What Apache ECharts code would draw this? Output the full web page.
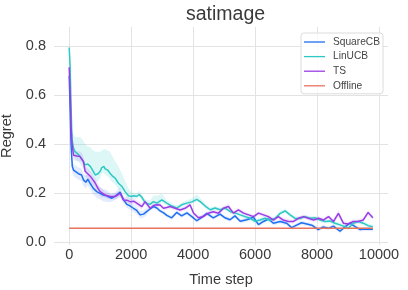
<!DOCTYPE html>
<html><head><meta charset="utf-8">
<script src="https://cdn.jsdelivr.net/npm/echarts@6/dist/echarts.min.js"></script>
<style>html,body{margin:0;padding:0;background:#fff}#c{width:408px;height:290px}</style>
</head><body><div id="c"></div>
<script>
// ---- data ----
const seriesNames = ['SquareCB', 'LinUCB', 'TS', 'Offline'];
const xTickValues = [0, 2000, 4000, 6000, 8000, 10000];
const yTickValues = [0.0, 0.2, 0.4, 0.6, 0.8];

const sqT = [0,30,60,100,140,200,300,400,460,540,600,680,780,890,1000,1100,1200,1375,1500,1645,1750,1860,1950,2075,2180,2290,2400,2500,2600,2720,2830,2935,3050,3150,3310,3470,3630,3800,3960,4120,4280,4440,4650,4870,5030,5190,5350,5520,5730,5950,6110,6270,6430,6590,6810,7020,7180,7340,7500,7670,7830,8040,8200,8370,8530,8740,8900,9060,9230,9390,9550,9800];
const sqV = [0.68,0.55,0.40,0.31,0.295,0.29,0.28,0.275,0.255,0.245,0.258,0.24,0.22,0.207,0.20,0.193,0.19,0.18,0.19,0.205,0.175,0.155,0.15,0.139,0.13,0.112,0.115,0.125,0.135,0.146,0.14,0.128,0.12,0.11,0.10,0.122,0.108,0.12,0.105,0.088,0.102,0.118,0.10,0.115,0.10,0.092,0.108,0.086,0.092,0.102,0.072,0.085,0.095,0.078,0.085,0.078,0.06,0.07,0.08,0.075,0.07,0.052,0.063,0.057,0.066,0.045,0.063,0.078,0.064,0.052,0.054,0.053];
const sqBand = [0.005,0.02,0.02,0.025,0.025,0.025,0.025,0.025,0.025,0.025,
  0.025,0.025,0.025,0.025,0.025,0.025,0.025,0.015,0.015,0.02,
  0.015,0.015,0.015,0.015,0.015,0.015,0.015,0.015,0.008,0.008,
  0.008,0.008,0.008,0.008,0.008,0.008,0.008,0.008,0.008,0.008,
  0.008,0.008,0.008,0.008,0.008,0.008,0.008,0.008,0.008,0.008,
  0.008,0.008,0.008,0.008,0.008,0.008,0.008,0.008,0.008,0.008,
  0.008,0.008,0.008,0.008,0.008,0.008,0.008,0.008,0.008,0.008,
  0.008,0.008];

const linT = [0,30,60,90,140,190,280,355,430,516,600,680,731,840,930,1000,1054,1120,1160,1240,1320,1400,1484,1590,1700,1806,1914,2000,2075,2180,2260,2340,2450,2610,2720,2830,2990,3150,3310,3470,3630,3800,3960,4120,4230,4390,4550,4710,4870,5030,5190,5350,5520,5680,5840,6000,6160,6320,6480,6650,6810,6970,7130,7290,7450,7610,7770,7940,8100,8260,8420,8580,8740,8900,9010,9170,9330,9490,9650,9800];
const linV = [0.795,0.72,0.56,0.42,0.385,0.37,0.36,0.35,0.335,0.316,0.32,0.31,0.30,0.275,0.28,0.29,0.305,0.31,0.30,0.295,0.282,0.27,0.262,0.241,0.228,0.207,0.19,0.187,0.19,0.188,0.195,0.185,0.162,0.155,0.166,0.16,0.173,0.16,0.148,0.14,0.153,0.16,0.165,0.175,0.166,0.148,0.133,0.14,0.133,0.14,0.126,0.12,0.112,0.105,0.098,0.086,0.091,0.098,0.09,0.098,0.118,0.128,0.112,0.098,0.097,0.105,0.098,0.1,0.091,0.085,0.087,0.078,0.071,0.064,0.057,0.078,0.085,0.078,0.068,0.064];
const linUp = [0.005,0.02,0.03,0.03,0.055,0.06,0.07,0.08,0.085,0.084,
  0.07,0.08,0.08,0.095,0.09,0.08,0.07,0.07,0.08,0.08,
  0.088,0.08,0.068,0.069,0.052,0.043,0.03,0.018,0.012,0.012,
  0.015,0.012,0.012,0.015,0.025,0.03,0.025,0.012,0.01,0.01,
  0.01,0.012,0.015,0.02,0.015,0.01,0.008,0.008,0.008,0.008,
  0.008,0.008,0.008,0.008,0.008,0.008,0.008,0.008,0.008,0.008,
  0.01,0.01,0.008,0.008,0.008,0.008,0.008,0.008,0.008,0.008,
  0.008,0.008,0.008,0.008,0.008,0.008,0.008,0.008,0.008,0.008];
const linDown = [0.005,0.02,0.03,0.03,0.03,0.03,0.03,0.03,0.03,0.03,
  0.03,0.03,0.03,0.03,0.03,0.03,0.025,0.025,0.025,0.025,
  0.025,0.025,0.025,0.025,0.018,0.018,0.018,0.015,0.01,0.01,
  0.01,0.01,0.008,0.008,0.01,0.01,0.01,0.008,0.008,0.008,
  0.008,0.008,0.008,0.008,0.008,0.008,0.008,0.008,0.008,0.008,
  0.008,0.008,0.008,0.008,0.008,0.008,0.008,0.008,0.008,0.008,
  0.008,0.008,0.008,0.008,0.008,0.008,0.008,0.008,0.008,0.008,
  0.008,0.008,0.008,0.008,0.008,0.008,0.008,0.008,0.008,0.008];

const tsT = [0,30,60,90,140,250,350,410,460,515,600,680,731,840,930,1000,1160,1320,1484,1645,1750,1860,1970,2080,2180,2345,2450,2613,2720,2828,2935,3043,3150,3260,3420,3580,3740,3900,4010,4170,4330,4490,4650,4820,4980,5140,5300,5460,5630,5790,5950,6110,6270,6430,6590,6750,6910,7080,7240,7400,7560,7720,7890,8050,8200,8370,8530,8690,8850,9010,9170,9330,9490,9650,9730,9800];
const tsV = [0.715,0.62,0.48,0.405,0.355,0.352,0.35,0.345,0.33,0.29,0.28,0.27,0.262,0.242,0.22,0.207,0.193,0.187,0.187,0.2,0.173,0.172,0.166,0.168,0.16,0.146,0.166,0.139,0.15,0.153,0.152,0.139,0.142,0.146,0.139,0.132,0.139,0.153,0.12,0.1,0.105,0.119,0.125,0.119,0.139,0.146,0.119,0.132,0.119,0.112,0.105,0.119,0.112,0.105,0.091,0.105,0.091,0.085,0.085,0.098,0.105,0.098,0.091,0.098,0.091,0.105,0.085,0.118,0.078,0.075,0.085,0.085,0.091,0.122,0.11,0.1];
const tsBand = [0.005,0.02,0.02,0.02,0.02,0.02,0.02,0.02,0.02,0.02,
  0.02,0.02,0.02,0.02,0.02,0.02,0.012,0.012,0.012,0.012,
  0.012,0.012,0.012,0.012,0.012,0.012,0.012,0.008,0.008,0.008,
  0.008,0.008,0.008,0.008,0.008,0.008,0.008,0.008,0.008,0.008,
  0.008,0.008,0.008,0.008,0.008,0.012,0.008,0.008,0.008,0.008,
  0.008,0.008,0.008,0.008,0.008,0.008,0.008,0.008,0.008,0.008,
  0.008,0.008,0.008,0.008,0.008,0.008,0.008,0.014,0.008,0.008,
  0.008,0.008,0.008,0.01,0.01,0.008];

const offT = [0, 9800];
const offV = [0.057, 0.057];

// ---- styling ----
const colors = { SquareCB: '#1f6ff2', LinUCB: '#2cc8c4', TS: '#9b3de6', Offline: '#e8735e' };
const bandColors = { SquareCB: 'rgba(31,111,242,0.13)', LinUCB: 'rgba(44,200,196,0.16)', TS: 'rgba(155,61,230,0.13)' };
const FONT = 'Liberation Sans';
const pair = (t, v) => t.map((x, i) => [x, v[i]]);

function bandSeries(key, t, lo, hi) {
  return {
    type: 'custom', name: key + ' band', coordinateSystem: 'cartesian2d', silent: true, z: 1,
    data: [[t[0], lo[0]]],
    renderItem: (params, api) => {
      const pts = [];
      for (let i = 0; i < t.length; i++) pts.push(api.coord([t[i], hi[i]]));
      for (let i = t.length - 1; i >= 0; i--) pts.push(api.coord([t[i], lo[i]]));
      return { type: 'polygon', shape: { points: pts }, style: { fill: bandColors[key], stroke: null } };
    }
  };
}
function lineSeries(key, t, v) {
  return { type: 'line', name: key, data: pair(t, v), symbol: 'none', showSymbol: false,
    lineStyle: { color: colors[key], width: 1.5 }, itemStyle: { color: colors[key] }, z: 2 };
}

const series = [];
series.push(bandSeries('SquareCB', sqT, sqV.map((v, i) => v - sqBand[i]), sqV.map((v, i) => v + sqBand[i])));
series.push(lineSeries('SquareCB', sqT, sqV));
series.push(bandSeries('LinUCB', linT, linV.map((v, i) => v - linDown[i]), linV.map((v, i) => v + linUp[i])));
series.push(lineSeries('LinUCB', linT, linV));
series.push(bandSeries('TS', tsT, tsV.map((v, i) => v - tsBand[i]), tsV.map((v, i) => v + tsBand[i])));
series.push(lineSeries('TS', tsT, tsV));
series.push(lineSeries('Offline', offT, offV));

const chart = echarts.init(document.getElementById('c'), null, { renderer: 'canvas' });
chart.setOption({
  animation: false,
  backgroundColor: '#fff',
  title: { text: 'satimage', left: 181, top: 0, textStyle: { fontFamily: FONT, fontSize: 19.5, fontWeight: 'normal', color: '#3a3a3a' } },
  legend: {
    data: seriesNames.map(n => ({ name: n, icon: 'rect' })), orient: 'vertical', right: 25, top: 33,
    itemWidth: 21, itemHeight: 1.3, itemGap: 4.6,
    padding: [4, 3, 3, 3],
    borderColor: '#dcdcdc', borderWidth: 1, borderRadius: 3, backgroundColor: 'rgba(255,255,255,0.8)',
    textStyle: { fontFamily: FONT, fontSize: 10.2, color: '#444', padding: [0, 0, 0, 3] }
  },
  grid: { left: 54, right: 20, top: 27, bottom: 45, containLabel: false, outerBoundsMode: 'none' },
  xAxis: {
    type: 'value', min: -490, max: 10290, minInterval: 2000, maxInterval: 2000,
    name: 'Time step', nameLocation: 'middle', nameGap: 27,
    nameTextStyle: { fontFamily: FONT, fontSize: 14.6, color: '#3a3a3a' },
    axisLine: { show: false }, axisTick: { show: false },
    axisLabel: { margin: 2, fontFamily: FONT, fontSize: 14.5, color: '#3a3a3a',
      formatter: v => (xTickValues.includes(v) ? String(v) : '') },
    splitLine: { show: true, showMinLine: false, showMaxLine: false, lineStyle: { color: '#e3e3e3', width: 1 } }
  },
  yAxis: {
    type: 'value', min: -0.011, max: 0.879, minInterval: 0.2, maxInterval: 0.2,
    name: 'Regret', nameLocation: 'middle', nameGap: 33,
    nameTextStyle: { fontFamily: FONT, fontSize: 14.6, color: '#3a3a3a' },
    axisLine: { show: false }, axisTick: { show: false },
    axisLabel: { margin: 8, fontFamily: FONT, fontSize: 14.5, color: '#3a3a3a',
      formatter: v => { const m = yTickValues.find(t => Math.abs(t - v) < 1e-9); return m === undefined ? '' : m.toFixed(1); } },
    splitLine: { show: true, showMinLine: false, showMaxLine: false, lineStyle: { color: '#e3e3e3', width: 1 } }
  },
  series: series
});
</script>
</body></html>
